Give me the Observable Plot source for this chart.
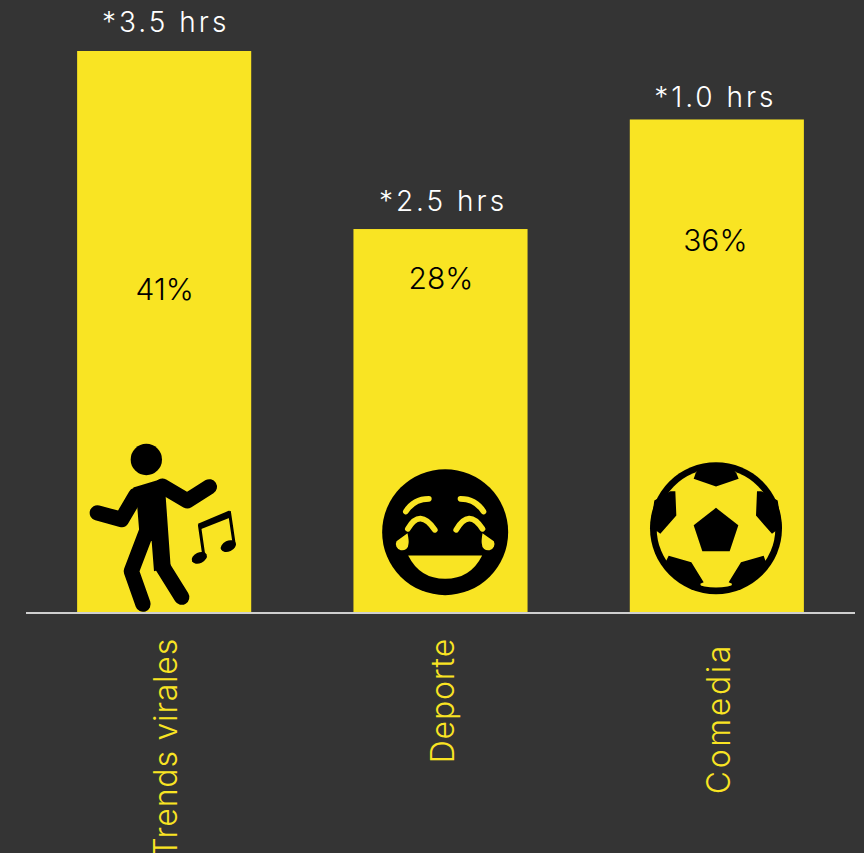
<!DOCTYPE html>
<html lang="es">
<head>
<meta charset="utf-8">
<script src="https://cdn.jsdelivr.net/npm/d3@7"></script>
<script src="https://cdn.jsdelivr.net/npm/@observablehq/plot@0.6"></script>
<style>
  html, body { margin: 0; padding: 0; background: #343434; overflow: hidden; }
  svg { display: block; }
</style>
</head>
<body>
<div id="chart"></div>
<script>
// Datos del gráfico
const categories = ["Trends virales", "Deporte", "Comedia"];
const shares = [41, 28, 36];
const hours = ["*3.5 hrs", "*2.5 hrs", "*1.0 hrs"];

const rows = categories.map((name, i) => ({name, share: shares[i], hours: hours[i]}));

// Label nudges, in pixels, for each category
const pctDy = {"Trends virales": 239, "Deporte": 50, "Comedia": 121};
const pctDx = {"Trends virales": 0, "Deporte": 0, "Comedia": -2};
const hrsDy = {"Trends virales": -28, "Deporte": -28, "Comedia": -21.5};
const hrsDx = {"Trends virales": 1, "Deporte": 2, "Comedia": -2};
const nameDy = {"Trends virales": 0, "Deporte": 0, "Comedia": 5};
const nameSpacing = {"Trends virales": "0.8px", "Deporte": "0.8px", "Comedia": "2.6px"};

const YELLOW = "#f9e423";
const FONT = "Inter, 'Noto Sans', sans-serif";

// Adds CSS letter spacing to a text mark
const spaced = px => (index, scales, values, dims, context, next) => {
  const g = next(index, scales, values, dims, context);
  g.style.letterSpacing = px;
  return g;
};

// Pictograms for each bar, each on its own 3-units-per-pixel canvas
const svgIcon = (w, h, body) =>
  "data:image/svg+xml;utf8," + encodeURIComponent(
    `<svg xmlns="http://www.w3.org/2000/svg" width="${w}" height="${h}" viewBox="0 0 ${w} ${h}">${body}</svg>`
  );

const dancer = svgIcon(570, 600, `
  <circle cx="227" cy="90" r="47"/>
  <g fill="none" stroke="#000" stroke-width="46" stroke-linecap="round" stroke-linejoin="round">
    <path d="M275 170L350 214L416 172"/>
    <path d="M195 198L153 270L80 250"/>
    <path d="M226 310L182 425L217 524"/>
    <path d="M275 410L333 503"/>
  </g>
  <path d="M188 174L275 148L285 200L300 412L250 425L243 335L206 310L200 235Z"/>
  <path d="M382 283L476 243L481 263L388 300Z"/>
  <path d="M386 285L400 382M476 245L491 347" fill="none" stroke="#000" stroke-width="9"/>
  <ellipse cx="386" cy="385" rx="24" ry="16" transform="rotate(-25 386 385)"/>
  <ellipse cx="473" cy="350" rx="24" ry="16" transform="rotate(-25 473 350)"/>
`);

const laughing = svgIcon(510, 510, `
  <circle cx="254" cy="245" r="189"/>
  <g fill="none" stroke="${YELLOW}" stroke-width="17" stroke-linecap="round">
    <path d="M136 183Q160 145 205 145"/>
    <path d="M300 145Q345 145 369 183"/>
    <path d="M142 235Q178 172 223 238"/>
    <path d="M287 238Q325 172 366 235"/>
  </g>
  <g fill="${YELLOW}">
    <path d="M141 248Q146 272 144 280A19 19 0 1 1 108 272Z"/>
    <path d="M366 248Q362 272 364 280A19 19 0 1 0 400 272Z"/>
    <path d="M143 315L365 315Q330 385 254 385Q178 385 143 315Z"/>
  </g>
`);

const ball = svgIcon(510, 510, `
  <circle cx="257" cy="233" r="198"/>
  <circle cx="257" cy="233" r="178" fill="${YELLOW}"/>
  <path d="M257 172L324 224L298 302L216 302L190 224Z"/>
  <path d="M196 68L190 85L257 108L325 85L318 68L300 45L210 45Z"/>
  <path d="M120 122L135 122L138 195L90 250L80 242L60 233L72 150Z"/>
  <path d="M393 122L380 122L377 195L425 250L435 242L455 233L442 150Z"/>
  <path d="M108 330L115 316L183 335L220 395L210 400L212 408L150 395L100 340Z"/>
  <path d="M405 330L400 316L332 335L295 395L305 400L303 408L360 395L412 340Z"/>
`);

const icons = [
  {name: "Trends virales", src: dancer, w: 190, h: 200, dx: 1, dy: -83.5},
  {name: "Deporte", src: laughing, w: 170, h: 170, dx: 4.5, dy: -77.5},
  {name: "Comedia", src: ball, w: 170, h: 170, dx: -2, dy: -77.5}
];

const chart = Plot.plot({
  width: 864,
  height: 853,
  marginTop: 51,
  marginBottom: 240.5,
  marginLeft: 26,
  marginRight: 9,
  style: {background: "#343434", overflow: "hidden"},
  x: {domain: categories, paddingInner: 0.37, paddingOuter: 0.185, round: false, axis: null},
  y: {domain: [0, 41], axis: null},
  marks: [
    Plot.barY(rows, {x: "name", y: "share", fill: YELLOW}),
    Plot.ruleY([0], {stroke: "#cfcfcf", strokeWidth: 2}),
    ...icons.map(d => Plot.image([d], {
      x: "name", frameAnchor: "bottom", src: "src",
      width: d.w, height: d.h, dx: d.dx, dy: d.dy
    })),
    ...rows.map(d => Plot.text([d], {
      x: "name", y: "share", text: "hours",
      fill: "#ffffff", fontFamily: FONT, fontSize: 28, fontWeight: 300,
      dx: hrsDx[d.name], dy: hrsDy[d.name], render: spaced("3px")
    })),
    ...rows.map(d => Plot.text([d], {
      x: "name", y: "share", text: r => `${r.share}%`,
      fill: "#000000", fontFamily: FONT, fontSize: 30, fontWeight: 300,
      dx: pctDx[d.name], dy: pctDy[d.name]
    })),
    ...rows.map(d => Plot.text([d], {
      x: "name", text: "name", frameAnchor: "bottom", rotate: -90, textAnchor: "end",
      fill: YELLOW, fontFamily: FONT, fontSize: 32, fontWeight: 300,
      dx: 12.5, dy: 25 + nameDy[d.name], render: spaced(nameSpacing[d.name])
    }))
  ]
});

document.getElementById("chart").append(chart);
</script>
</body>
</html>
